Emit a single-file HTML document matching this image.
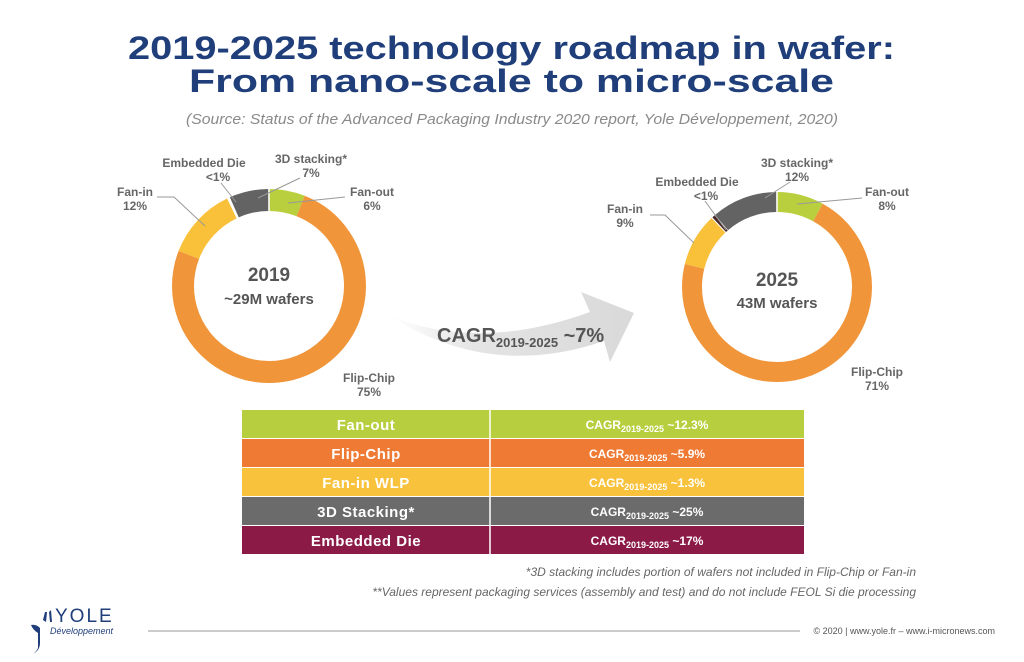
<!DOCTYPE html>
<html><head><meta charset="utf-8"><style>
html,body{margin:0;padding:0;background:#fff;}
svg{display:block;font-family:"Liberation Sans",sans-serif;}
</style></head><body>
<svg width="1024" height="662" viewBox="0 0 1024 662" xmlns="http://www.w3.org/2000/svg">
<defs>
<linearGradient id="ag" x1="0" y1="0" x2="1" y2="0">
<stop offset="0" stop-color="#fff"/><stop offset="0.35" stop-color="#e4e4e4"/><stop offset="1" stop-color="#d9d9d9"/>
</linearGradient>
</defs>
<text x="128" y="59" textLength="767" lengthAdjust="spacingAndGlyphs" font-size="32" font-weight="bold" fill="#1f3e7a">2019-2025 technology roadmap in wafer:</text>
<text x="189" y="92" textLength="645" lengthAdjust="spacingAndGlyphs" font-size="32" font-weight="bold" fill="#1f3e7a">From nano-scale to micro-scale</text>
<text x="186" y="124" textLength="652" lengthAdjust="spacingAndGlyphs" font-size="15" font-style="italic" fill="#8a8a8a">(Source: Status of the Advanced Packaging Industry 2020 report, Yole Développement, 2020)</text>

<!-- arrow -->
<path d="M390,316 Q480,352 590,312 L581,292 L634,313 L610,362 L604,341 Q490,380 390,316 Z" fill="url(#ag)"/>
<text x="437" y="342" font-size="20" font-weight="bold" fill="#555">CAGR<tspan font-size="13" dy="5">2019-2025</tspan><tspan dy="-5" font-size="20"> ~7%</tspan></text>

<!-- donut 2019 -->
<g transform="translate(269,286) rotate(-90)" fill="none" stroke-width="22">
<circle r="86" pathLength="100" stroke="#b9cf3e" stroke-dasharray="6 94" stroke-dashoffset="0"/>
<circle r="86" pathLength="100" stroke="#f0953a" stroke-dasharray="75 25" stroke-dashoffset="-6"/>
<circle r="86" pathLength="100" stroke="#f9c03a" stroke-dasharray="12 88" stroke-dashoffset="-81"/>
<circle r="86" pathLength="100" stroke="#636363" stroke-dasharray="6.5 93.5" stroke-dashoffset="-93.5"/>
</g>
<g stroke="#fff" stroke-width="1.5"><line x1="269" y1="188" x2="269" y2="212"/></g>
<text x="269" y="281" text-anchor="middle" font-size="19" font-weight="bold" fill="#555">2019</text>
<text x="269" y="304" text-anchor="middle" font-size="15" font-weight="bold" fill="#555">~29M wafers</text>
<g font-size="12" font-weight="bold" fill="#666" text-anchor="middle">
<text x="204" y="167">Embedded Die</text><text x="218" y="181">&lt;1%</text>
<text x="311" y="163">3D stacking*</text><text x="311" y="177">7%</text>
<text x="372" y="196">Fan-out</text><text x="372" y="210">6%</text>
<text x="135" y="196">Fan-in</text><text x="135" y="210">12%</text>
<text x="369" y="382">Flip-Chip</text><text x="369" y="396">75%</text>
</g>
<g stroke="#999" stroke-width="1" fill="none">
<polyline points="157,197 174,197 205,226"/>
<line x1="221" y1="183" x2="236" y2="202"/>
<line x1="300" y1="178" x2="258" y2="198"/>
<line x1="345" y1="197" x2="288" y2="203"/>
</g>

<!-- donut 2025 -->
<g transform="translate(777,287) rotate(-90)" fill="none" stroke-width="20">
<circle r="85" pathLength="100" stroke="#b9cf3e" stroke-dasharray="8 92" stroke-dashoffset="0"/>
<circle r="85" pathLength="100" stroke="#f0953a" stroke-dasharray="71 29" stroke-dashoffset="-8"/>
<circle r="85" pathLength="100" stroke="#f9c03a" stroke-dasharray="9 91" stroke-dashoffset="-79"/>
<circle r="85" pathLength="100" stroke="#4a2a2a" stroke-dasharray="0.5 99.5" stroke-dashoffset="-88.2"/>
<circle r="85" pathLength="100" stroke="#636363" stroke-dasharray="11.2 88.8" stroke-dashoffset="-88.8"/>
</g>
<g stroke="#fff" stroke-width="1.5"><line x1="777" y1="190" x2="777" y2="212"/></g>
<text x="777" y="286" text-anchor="middle" font-size="19" font-weight="bold" fill="#555">2025</text>
<text x="777" y="308" text-anchor="middle" font-size="15" font-weight="bold" fill="#555">43M wafers</text>
<g font-size="12" font-weight="bold" fill="#666" text-anchor="middle">
<text x="697" y="186">Embedded Die</text><text x="706" y="200">&lt;1%</text>
<text x="797" y="167">3D stacking*</text><text x="797" y="181">12%</text>
<text x="887" y="196">Fan-out</text><text x="887" y="210">8%</text>
<text x="625" y="213">Fan-in</text><text x="625" y="227">9%</text>
<text x="877" y="376">Flip-Chip</text><text x="877" y="390">71%</text>
</g>
<g stroke="#999" stroke-width="1" fill="none">
<polyline points="650,215 665,215 694,243"/>
<line x1="705" y1="201" x2="726" y2="230"/>
<line x1="790" y1="182" x2="765" y2="198"/>
<line x1="862" y1="198" x2="797" y2="204"/>
</g>

<!-- table -->
<g font-weight="bold" fill="#fff" text-anchor="middle">
<rect x="242" y="410" width="562" height="28" fill="#b7cf3e"/>
<rect x="242" y="439" width="562" height="28" fill="#ee7a33"/>
<rect x="242" y="468" width="562" height="28" fill="#f9c23c"/>
<rect x="242" y="497" width="562" height="28" fill="#6b6b6b"/>
<rect x="242" y="526" width="562" height="28" fill="#8b1a47"/>
<line x1="490" y1="410" x2="490" y2="554" stroke="#fff" stroke-width="1.5"/>
<g letter-spacing="0.5">
<text x="366" y="430" font-size="15">Fan-out</text>
<text x="366" y="459" font-size="15">Flip-Chip</text>
<text x="366" y="488" font-size="15">Fan-in WLP</text>
<text x="366" y="517" font-size="15">3D Stacking*</text>
<text x="366" y="546" font-size="15">Embedded Die</text>
</g>
<g font-size="12">
<text x="647" y="429">CAGR<tspan font-size="9" dy="3">2019-2025</tspan><tspan dy="-3"> ~12.3%</tspan></text>
<text x="647" y="458">CAGR<tspan font-size="9" dy="3">2019-2025</tspan><tspan dy="-3"> ~5.9%</tspan></text>
<text x="647" y="487">CAGR<tspan font-size="9" dy="3">2019-2025</tspan><tspan dy="-3"> ~1.3%</tspan></text>
<text x="647" y="516">CAGR<tspan font-size="9" dy="3">2019-2025</tspan><tspan dy="-3"> ~25%</tspan></text>
<text x="647" y="545">CAGR<tspan font-size="9" dy="3">2019-2025</tspan><tspan dy="-3"> ~17%</tspan></text>
</g>
</g>

<g font-size="12" font-style="italic" fill="#666" text-anchor="end">
<text x="916" y="576">*3D stacking includes portion of wafers not included in Flip-Chip or Fan-in</text>
<text x="916" y="596">**Values represent packaging services (assembly and test) and do not include FEOL Si die processing</text>
</g>

<!-- footer -->
<path d="M31,625 Q33,630 38,633 L38,648 Q36,652 33,654 Q40,650 40,643 L40,628 Q36,624 31,625 Z" fill="#1f3e7a"/>
<path d="M43,620 L45,612 L47,612 L46,622 Z" fill="#1f3e7a"/>
<path d="M49,612 L51,610 L52,622 L50,622 Z" fill="#1f3e7a"/>
<text x="55" y="622" font-size="19" fill="#1f3e7a" letter-spacing="2">YOLE</text>
<text x="50" y="634" font-size="9" font-style="italic" fill="#1f3e7a">Développement</text>
<line x1="148" y1="631" x2="800" y2="631" stroke="#999" stroke-width="1"/>
<text x="995" y="634" text-anchor="end" font-size="9" fill="#555">© 2020 | www.yole.fr – www.i-micronews.com</text>
</svg>
</body></html>
